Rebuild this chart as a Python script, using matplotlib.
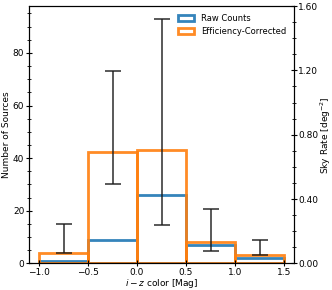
import numpy as np
import matplotlib
matplotlib.use("Agg")
from matplotlib import pyplot as plt
from matplotlib.ticker import MultipleLocator, FormatStrFormatter

bin_edges = [-1.0, -0.5, 0.0, 0.5, 1.0, 1.5]
raw_counts = [1.0, 9.0, 26.0, 7.0, 2.0]
corrected = [3.8, 42.2, 43.1, 8.1, 3.0]
err_low = [3.8, 30.2, 14.4, 4.6, 3.0]
err_high = [14.9, 73.2, 92.9, 20.8, 8.9]

centers = [(bin_edges[k] + bin_edges[k + 1]) / 2 for k in range(len(raw_counts))]
widths = [bin_edges[k + 1] - bin_edges[k] for k in range(len(raw_counts))]

plt.rcParams['font.size'] = 6.5

fig = plt.figure(figsize=(3.32, 2.9), dpi=100)
ax = fig.add_axes([0.088, 0.092, 0.797, 0.887])

ax.bar(centers, raw_counts, width=widths, fill=False, edgecolor='#1f77b4',
       linewidth=2, label='Raw Counts', alpha=0.9)
ax.bar(centers, corrected, width=widths, fill=False, edgecolor='#ff7f0e',
       linewidth=2, label='Efficiency-Corrected', alpha=0.9)

mid = [(lo + hi) / 2 for lo, hi in zip(err_low, err_high)]
half = [(hi - lo) / 2 for lo, hi in zip(err_low, err_high)]
ax.errorbar(centers, mid, yerr=half, fmt='none', ecolor='#1a1a1a',
            elinewidth=1.2, capsize=6, capthick=1.2, alpha=0.85)

ax.set_xlim(-1.1, 1.6)
ax.set_ylim(0, 97.8)
ax.xaxis.set_major_locator(MultipleLocator(0.5))
ax.yaxis.set_major_locator(MultipleLocator(20))
ax.yaxis.set_minor_locator(MultipleLocator(5))
ax.tick_params(axis='both', which='both', direction='inout', pad=1.5)
ax.tick_params(which='major', length=4)
ax.tick_params(which='minor', length=2.5)
ax.set_xlabel('$i-z$ color [Mag]', labelpad=0)
ax.set_ylabel('Number of Sources', labelpad=1)

ax2 = ax.twinx()
ax2.set_ylim(0, 1.6)
ax2.yaxis.set_major_locator(MultipleLocator(0.4))
ax2.yaxis.set_minor_locator(MultipleLocator(0.1))
ax2.yaxis.set_major_formatter(FormatStrFormatter('%.2f'))
ax2.tick_params(axis='y', which='both', direction='inout', pad=1.2)
ax2.tick_params(which='major', length=4)
ax2.tick_params(which='minor', length=2.5)
ax2.set_ylabel('Sky Rate [deg$^{-2}$]', labelpad=0)

ax.legend(loc='upper right', frameon=False, fontsize=6, handlelength=2,
          borderaxespad=0.5)

fig.savefig('out.png', dpi=100)
